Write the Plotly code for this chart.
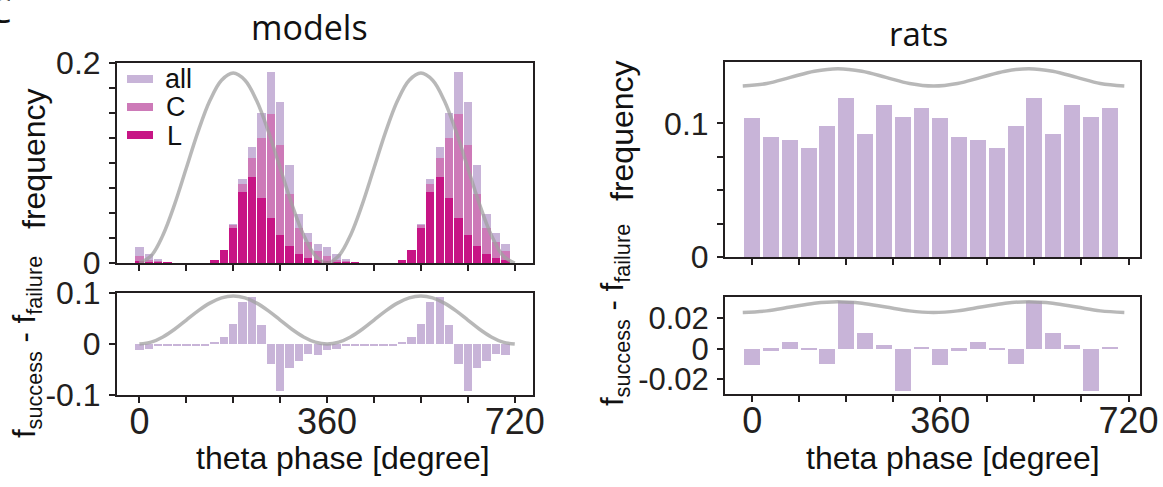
import plotly.graph_objects as go

# ---------------- data ----------------
phase_models = [0, 18, 36, 54, 72, 90, 108, 126, 144, 162, 180, 198, 216, 234, 252, 270, 288, 306, 324, 342,
                360, 378, 396, 414, 432, 450, 468, 486, 504, 522, 540, 558, 576, 594, 612, 630, 648, 666, 684, 702]
freq_all = [0.0163, 0.0093, 0.0043, 0.0007, 0, 0, 0, 0, 0.0027, 0.0133, 0.0392, 0.0844, 0.1156, 0.1498, 0.1907, 0.1608, 0.0980, 0.0492, 0.0296, 0.0193,
            0.0163, 0.0093, 0.0043, 0.0007, 0, 0, 0, 0, 0.0027, 0.0133, 0.0392, 0.0844, 0.1156, 0.1498, 0.1907, 0.1608, 0.0980, 0.0492, 0.0296, 0.0193]
freq_C = [0.0073, 0.0030, 0.0020, 0.0003, 0, 0, 0, 0, 0.0027, 0.0130, 0.0382, 0.0791, 0.1053, 0.1252, 0.1492, 0.1180, 0.0690, 0.0349, 0.0206, 0.0123,
          0.0073, 0.0030, 0.0020, 0.0003, 0, 0, 0, 0, 0.0027, 0.0130, 0.0382, 0.0791, 0.1053, 0.1252, 0.1492, 0.1180, 0.0690, 0.0349, 0.0206, 0.0123]
freq_L = [0.0017, 0.0007, 0.0005, 0.0002, 0, 0, 0, 0, 0.0027, 0.0126, 0.0346, 0.0711, 0.0860, 0.0654, 0.0455, 0.0276, 0.0166, 0.0086, 0.0047, 0.0027,
          0.0017, 0.0007, 0.0005, 0.0002, 0, 0, 0, 0, 0.0027, 0.0126, 0.0346, 0.0711, 0.0860, 0.0654, 0.0455, 0.0276, 0.0166, 0.0086, 0.0047, 0.0027]
diff_models = [-0.0118, -0.0098, -0.0030, -0.0030, -0.0025, -0.0025, -0.0025, -0.0020, 0.0026, 0.0137, 0.0400, 0.0820, 0.0920, 0.0380, -0.0386, -0.0915, -0.0470, -0.0330, -0.0190, -0.0216,
               -0.0118, -0.0098, -0.0030, -0.0030, -0.0025, -0.0025, -0.0025, -0.0020, 0.0026, 0.0137, 0.0400, 0.0820, 0.0920, 0.0380, -0.0386, -0.0915, -0.0470, -0.0330, -0.0190, -0.0216]

phase_rats = [0, 36, 72, 108, 144, 180, 216, 252, 288, 324, 360, 396, 432, 468, 504, 540, 576, 612, 648, 684]
freq_rats = [0.1040, 0.0898, 0.0875, 0.0815, 0.0980, 0.1190, 0.0920, 0.1138, 0.1048, 0.1115,
             0.1040, 0.0898, 0.0875, 0.0815, 0.0980, 0.1190, 0.0920, 0.1138, 0.1048, 0.1115]
diff_rats = [-0.0105, -0.0013, 0.0046, -0.0007, -0.0098, 0.0315, 0.0105, 0.0026, -0.0280, 0.0013,
             -0.0105, -0.0013, 0.0046, -0.0007, -0.0098, 0.0315, 0.0105, 0.0026, -0.0280, 0.0013]

# theta reference curves
theta_x_models = [0, 22.5, 45, 67.5, 90, 112.5, 135, 157.5, 180, 202.5, 225, 247.5, 270, 292.5, 315, 337.5,
                  360, 382.5, 405, 427.5, 450, 472.5, 495, 517.5, 540, 562.5, 585, 607.5, 630, 652.5, 675, 697.5, 720]
theta_top_models = [0, 0.0072, 0.0278, 0.0586, 0.095, 0.1314, 0.1622, 0.1828, 0.19, 0.1828, 0.1622, 0.1314, 0.095, 0.0586, 0.0278, 0.0072,
                    0, 0.0072, 0.0278, 0.0586, 0.095, 0.1314, 0.1622, 0.1828, 0.19, 0.1828, 0.1622, 0.1314, 0.095, 0.0586, 0.0278, 0.0072, 0]
theta_bot_models = [0, 0.0036, 0.0138, 0.029, 0.047, 0.065, 0.0802, 0.0904, 0.094, 0.0904, 0.0802, 0.065, 0.047, 0.029, 0.0138, 0.0036,
                    0, 0.0036, 0.0138, 0.029, 0.047, 0.065, 0.0802, 0.0904, 0.094, 0.0904, 0.0802, 0.065, 0.047, 0.029, 0.0138, 0.0036, 0]
theta_x_rats = [-18, 28, 73, 119, 164, 210, 256, 301, 347, 393, 438, 484, 529, 575, 621, 666, 712]
theta_top_rats = [0.128, 0.1299, 0.1345, 0.1391, 0.141, 0.1391, 0.1345, 0.1299, 0.128, 0.1299, 0.1345, 0.1391, 0.141, 0.1391, 0.1345, 0.1299, 0.128]
theta_bot_rats = [0.0238, 0.0248, 0.0273, 0.0298, 0.0308, 0.0298, 0.0273, 0.0248, 0.0238, 0.0248, 0.0273, 0.0298, 0.0308, 0.0298, 0.0273, 0.0248, 0.0238]

x_tickvals = [0, 90, 180, 270, 360, 450, 540, 630, 720]
x_ticktext = ["0", "", "", "", "360", "", "", "", "720"]

# ---------------- style ----------------
W, H = 1163, 487
C_ALL = "#c8b4d8"
C_C = "#cd7ab8"
C_L = "#c71585"
CURVE = "rgba(160,160,160,0.75)"
AX = "#231f20"
FONT = "Liberation Sans, Arial, sans-serif"

def px_x(x):
    return x / W

def px_y(y):
    return 1 - y / H

fig = go.Figure()

# left top
fig.add_trace(go.Bar(x=phase_models, y=freq_all, width=16, marker=dict(color=C_ALL, line_width=0), xaxis="x", yaxis="y", showlegend=False))
fig.add_trace(go.Bar(x=phase_models, y=freq_C, width=16, marker=dict(color=C_C, line_width=0), xaxis="x", yaxis="y", showlegend=False))
fig.add_trace(go.Bar(x=phase_models, y=freq_L, width=16, marker=dict(color=C_L, line_width=0), xaxis="x", yaxis="y", showlegend=False))
fig.add_trace(go.Scatter(x=theta_x_models, y=theta_top_models, mode="lines", line=dict(color=CURVE, width=3.5, shape="spline"), xaxis="x", yaxis="y", showlegend=False))
# left bottom
fig.add_trace(go.Bar(x=phase_models, y=diff_models, width=16, marker=dict(color=C_ALL, line_width=0), xaxis="x2", yaxis="y2", showlegend=False))
fig.add_trace(go.Scatter(x=theta_x_models, y=theta_bot_models, mode="lines", line=dict(color=CURVE, width=3.5, shape="spline"), xaxis="x2", yaxis="y2", showlegend=False))
# right top
fig.add_trace(go.Bar(x=phase_rats, y=freq_rats, width=30.5, marker=dict(color=C_ALL, line_width=0), xaxis="x3", yaxis="y3", showlegend=False))
fig.add_trace(go.Scatter(x=theta_x_rats, y=theta_top_rats, mode="lines", line=dict(color=CURVE, width=3.5, shape="spline"), xaxis="x3", yaxis="y3", showlegend=False))
# right bottom
fig.add_trace(go.Bar(x=phase_rats, y=diff_rats, width=30.5, marker=dict(color=C_ALL, line_width=0), xaxis="x4", yaxis="y4", showlegend=False))
fig.add_trace(go.Scatter(x=theta_x_rats, y=theta_bot_rats, mode="lines", line=dict(color=CURVE, width=3.5, shape="spline"), xaxis="x4", yaxis="y4", showlegend=False))

common_ax = dict(showline=True, linecolor=AX, linewidth=2, mirror=True, ticks="outside", ticklen=6,
                 tickwidth=1.5, tickcolor=AX, showgrid=False, zeroline=False, fixedrange=True,
                 automargin=False)

left_dom = [px_x(117), px_x(533)]
right_dom = [px_x(725), px_x(1140)]

layout = dict(
    width=W, height=H, margin=dict(l=0, r=0, t=0, b=0, autoexpand=False),
    paper_bgcolor="white", plot_bgcolor="white", barmode="overlay", bargap=0,
    font=dict(family=FONT, color="#231f20"),
    xaxis=dict(domain=left_dom, anchor="y", range=[-43, 755], tickvals=x_tickvals, ticktext=[""] * 9, **common_ax),
    yaxis=dict(domain=[px_y(263), px_y(63)], anchor="x", range=[0, 0.2],
               tickvals=[0, 0.025, 0.05, 0.075, 0.1, 0.125, 0.15, 0.175, 0.2],
               ticktext=["0", "", "", "", "", "", "", "", "0.2"], tickfont=dict(size=32), ticklabelstandoff=2, **common_ax),
    xaxis2=dict(domain=left_dom, anchor="y2", range=[-43, 755], tickvals=x_tickvals, ticktext=x_ticktext,
                tickfont=dict(size=36), ticklabelstandoff=-12, **common_ax),
    yaxis2=dict(domain=[px_y(395), px_y(293)], anchor="x2", range=[-0.1, 0.1],
                tickvals=[-0.1, 0, 0.1], ticktext=["-0.1", "0", "0.1"], tickfont=dict(size=32), ticklabelstandoff=2, **common_ax),
    xaxis3=dict(domain=right_dom, anchor="y3", range=[-52, 742], tickvals=x_tickvals, ticktext=[""] * 9, **common_ax),
    yaxis3=dict(domain=[px_y(257), px_y(62)], anchor="x3", range=[0, 0.146],
                tickvals=[0, 0.025, 0.05, 0.075, 0.1], ticktext=["0", "", "", "", "0.1"], tickfont=dict(size=32), ticklabelstandoff=2, **common_ax),
    xaxis4=dict(domain=right_dom, anchor="y4", range=[-52, 742], tickvals=x_tickvals, ticktext=x_ticktext,
                tickfont=dict(size=36), ticklabelstandoff=-12, **common_ax),
    yaxis4=dict(domain=[px_y(394), px_y(297)], anchor="x4", range=[-0.0297, 0.0339],
                tickvals=[-0.02, 0, 0.02], ticktext=["-0.02", "0", "0.02"], tickfont=dict(size=31), ticklabelstandoff=2, **common_ax),
)
fig.update_layout(**layout)

ann = []
def add_text(text, x, y, size, xanchor="center", yanchor="middle", angle=0, family=FONT):
    ann.append(dict(text=text, x=px_x(x), y=px_y(y), xref="paper", yref="paper", showarrow=False,
                    xanchor=xanchor, yanchor=yanchor, textangle=angle, font=dict(size=size, family=family, color="#111")))

add_text("models", 309, 27, 34, family="Open Sans, sans-serif")
add_text("rats", 918, 33, 33, family="Open Sans, sans-serif")
add_text("C", 0, 9, 36, family="Open Sans, sans-serif")
add_text("theta phase [degree]", 343, 458, 32)
add_text("theta phase [degree]", 953, 458, 32)
add_text("frequency", 34, 159, 32, angle=-90)
add_text("frequency", 622, 131, 32, angle=-90)
add_text("f<sub>success</sub> - f<sub>failure</sub>", 27, 347, 31, angle=-90)
add_text("f<sub>success</sub> - f<sub>failure</sub>", 615, 315, 31, angle=-90)
# legend labels
add_text("all", 163, 79, 27, xanchor="left")
add_text("C", 164, 107, 27, xanchor="left")
add_text("L", 165, 136, 27, xanchor="left")

shapes = []
for (y0, y1, col) in [(75, 83, C_ALL), (103, 111, C_C), (131, 139, C_L)]:
    shapes.append(dict(type="rect", xref="paper", yref="paper", x0=px_x(127), x1=px_x(153),
                       y0=px_y(y1), y1=px_y(y0), fillcolor=col, line=dict(width=0)))

fig.update_layout(annotations=ann, shapes=shapes)
fig.write_html("out.html", config={"displayModeBar": False},
               post_script="document.body.style.margin='0px';")
